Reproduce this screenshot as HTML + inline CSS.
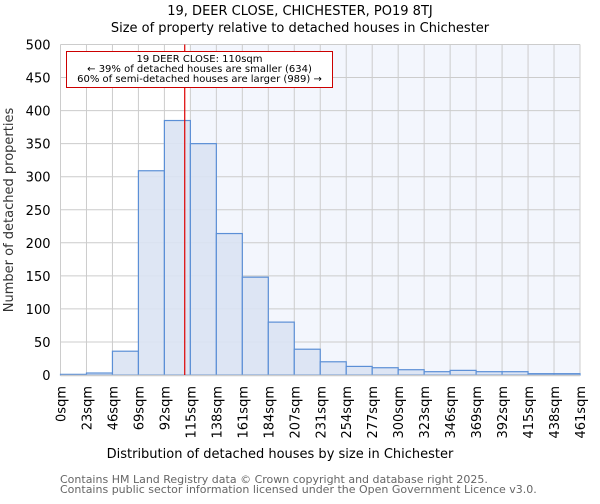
<!DOCTYPE html>
<html><head><meta charset="utf-8"><style>
body{margin:0;background:#fff;font-family:"DejaVu Sans","Liberation Sans",sans-serif}
svg text{font-family:"DejaVu Sans","Liberation Sans",sans-serif}
</style></head><body>
<svg id="c" width="600" height="500">
<text x="300" y="15" text-anchor="middle" font-size="13">19, DEER CLOSE, CHICHESTER, PO19 8TJ</text>
<text x="300" y="32" text-anchor="middle" font-size="13">Size of property relative to detached houses in Chichester</text>
<g id="plot"></g>
<text x="280" y="458" text-anchor="middle" font-size="13">Distribution of detached houses by size in Chichester</text>
<text transform="translate(13,210) rotate(-90)" text-anchor="middle" font-size="13" fill="#333">Number of detached properties</text>
<text x="60" y="483" font-size="11" fill="#666">Contains HM Land Registry data © Crown copyright and database right 2025.</text>
<text x="60" y="493" font-size="11" fill="#666">Contains public sector information licensed under the Open Government Licence v3.0.</text>
</svg>
<script>
const binEdges=[0,23,46,69,92,115,138,161,184,207,231,254,277,300,323,346,369,392,415,438,461];
const counts=[1,3,36,309,385,350,214,148,80,39,20,13,11,8,5,7,5,5,2,2];
const yTicks=[0,50,100,150,200,250,300,350,400,450,500];
const propertySize=110;
const NS="http://www.w3.org/2000/svg";
const X0=60.5,X1=580,Y0=375,Y1=44.5;
const nb=counts.length;
function xs(i){return X0+(X1-X0)*i/nb;}
function xv(v){ // value to x via bin edges
  for(let i=0;i<nb;i++){if(v<=binEdges[i+1]){return xs(i)+(v-binEdges[i])/(binEdges[i+1]-binEdges[i])*(xs(i+1)-xs(i));}}
  return X1;}
function ys(v){return Y0-(Y0-Y1)*v/500;}
const g=document.getElementById('plot');
function mk(t,a){const e=document.createElementNS(NS,t);for(const k in a)e.setAttribute(k,a[k]);g.appendChild(e);return e;}
const splitX=xs(5);
let bgL=mk('rect',{x:X0,y:Y1,width:splitX-X0,height:Y0-Y1,fill:'#fff'});


let bgR=mk('rect',{x:splitX,y:Y1,width:X1-splitX,height:Y0-Y1,fill:'#f3f6fd'});


yTicks.forEach(t=>{
  let l=mk('line',{x1:X0,x2:X1,y1:ys(t),y2:ys(t),stroke:'#ccc','stroke-width':1});
  
  
  let tx=mk('text',{x:X0-10,y:ys(t)+5,'text-anchor':'end','font-size':13});
  tx.textContent=t;
  
  
});
binEdges.forEach((b,i)=>{
  let l=mk('line',{x1:xs(i),x2:xs(i),y1:Y1,y2:Y0,stroke:'#ccc','stroke-width':1});
  
  
  let tx=mk('text',{transform:`translate(${xs(i)+5},386) rotate(-90)`,'text-anchor':'end','font-size':13});
  tx.textContent=b+'sqm';
  
  
});
counts.forEach((c,i)=>{
  let r=mk('rect',{x:xs(i),y:ys(c),width:xs(i+1)-xs(i),height:Y0-ys(c),fill:'#dae3f3',stroke:'#5b8fd6','stroke-width':1.2,'fill-opacity':0.9});
  
  
});
let ax=mk('line',{x1:X0,x2:X1,y1:Y0+0.5,y2:Y0+0.5,stroke:'#ccc','stroke-width':1.5});


const px=xv(propertySize);
let ml=mk('line',{x1:px,x2:px,y1:Y1,y2:Y0,stroke:'#d00','stroke-width':1.2});


let box=mk('rect',{x:66.5,y:51.5,width:266,height:36,fill:'#fff',stroke:'#c00','stroke-width':1});


[['19 DEER CLOSE: 110sqm',62],['← 39% of detached houses are smaller (634)',72],['60% of semi-detached houses are larger (989) →',82]].forEach(([s,y])=>{
  let t=mk('text',{x:199.5,y:y,'text-anchor':'middle','font-size':10});
  t.textContent=s;
  
  
});
</script>
</body></html>
